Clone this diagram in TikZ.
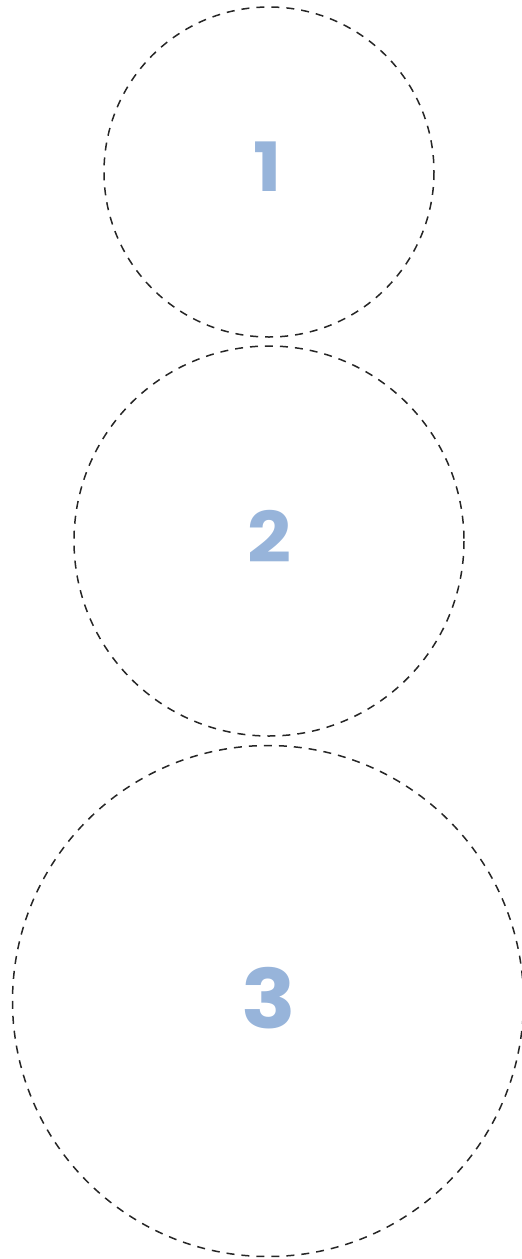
\documentclass[tikz,border=0pt]{standalone}
\usepackage{fontspec}
\setmainfont{Poppins}[UprightFont=*-Regular,BoldFont=*-Bold]
\usepackage{tikz}
\usetikzlibrary{positioning}

\definecolor{numblue}{HTML}{97B4DA}

\begin{document}
\begin{tikzpicture}[x=1pt,y=-1pt]
    \useasboundingbox (0,0) rectangle (522,1259);
    \tikzset{ring/.style={draw=black!85,line width=1.5pt,dash pattern=on 8pt off 7pt}}

    \draw[ring] (269,172) circle (165);
    \draw[ring] (269,541) circle (195);
    \draw[ring] (268,1001) circle (255.5);

    \node[numblue,xscale=1.1] (one) at (268,167) {\fontsize{68}{68}\selectfont\bfseries 1};
    \node[numblue,xscale=1.1] (two) at (269,536) {\fontsize{70}{70}\selectfont\bfseries 2};
    \node[numblue,xscale=1.1] (three) at (269,998) {\fontsize{82}{82}\selectfont\bfseries 3};
\end{tikzpicture}
\end{document}
